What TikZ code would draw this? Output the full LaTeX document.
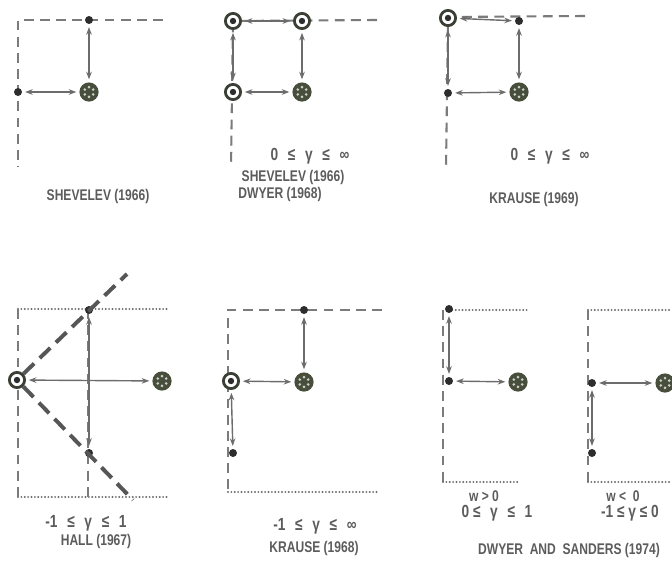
\documentclass[tikz,border=0pt]{standalone}
\usepackage{fontspec}
\setmainfont{Liberation Sans}[FakeStretch=0.78]
\usetikzlibrary{arrows.meta}
\definecolor{linegray}{RGB}{108,108,108}
\definecolor{dotgray}{RGB}{45,45,45}
\definecolor{srcolive}{RGB}{72,78,60}
\definecolor{ringdark}{RGB}{58,64,54}
\definecolor{textgray}{RGB}{92,92,92}
\newcommand{\rgap}{\hspace{0.55em}}
\tikzset{
  >=Stealth,
  linkarrow/.style={{Stealth[length=1.9mm, width=1.4mm]}-{Stealth[length=1.9mm, width=1.4mm]}, line width=1pt, linegray, shorten <=2pt, shorten >=2pt},
  framedash/.style={dash pattern=on 7pt off 4.5pt, line width=1.5pt, linegray!90},
  framedot/.style={dash pattern=on 0pt off 2.4pt, line cap=round, line width=1.5pt, linegray},
  bounddash/.style={dash pattern=on 10.5pt off 5.5pt, line width=2.8pt, linegray!80!black}
}

\begin{document}
\begin{tikzpicture}[x=0.025cm, y=-0.025cm,
    dotnode/.style={circle, fill=dotgray, inner sep=0pt, minimum size=0.2cm},
    tnode/.style={circle, draw=ringdark, line width=2pt, fill=white, inner sep=0pt, minimum size=0.38cm,
      path picture={\fill[dotgray] (path picture bounding box.center) circle (0.08cm);}},
    snode/.style={circle, fill=srcolive, inner sep=0pt, minimum size=0.48cm,
      path picture={\foreach \a in {30,90,...,330}
        \fill[white!72!srcolive] ([shift={(\a:0.12cm)}]path picture bounding box.center) circle (0.037cm);}},
    lbl/.style={text=textgray, inner sep=0pt, font=\bfseries\fontsize{11}{12}\selectfont},
    rangelbl/.style={lbl, font=\bfseries\fontsize{12.5}{13}\selectfont}]

    \useasboundingbox (0,0) rectangle (672,561);

    % Shevelev (1966)
    \draw[framedash] (163,20) -- (18,20) -- (18,167);
    \node[dotnode] (a1) at (89,20) {};
    \node[dotnode] (a2) at (18,92) {};
    \node[snode] (s1) at (89,92) {};
    \draw[linkarrow] (a1) -- (s1);
    \draw[linkarrow] (a2) -- (s1);
    \node[lbl] (n1) at (98,196) {SHEVELEV (1966)};

    % Shevelev (1966) / Dwyer (1968)
    \draw[framedash] (377,20) -- (233,21) -- (231,167);
    \node[tnode] (t2a) at (233,21) {};
    \node[tnode] (t2b) at (302,21) {};
    \node[tnode] (t2c) at (233,92) {};
    \node[snode] (s2) at (302,92) {};
    \draw[linkarrow] (t2a) -- (t2b);
    \draw[linkarrow] (t2a) -- (t2c);
    \draw[linkarrow] (t2b) -- (s2);
    \draw[linkarrow] (t2c) -- (s2);
    \node[rangelbl] (r2) at (310,156) {0\rgap≤\rgap γ\rgap≤\rgap∞};
    \node[lbl] (n2a) at (293,177) {SHEVELEV (1966)};
    \node[lbl] (n2b) at (280,194) {DWYER (1968)};

    % Krause (1969)
    \draw[framedash] (585,16) -- (448,17) -- (446,170);
    \node[tnode] (t3) at (448,18) {};
    \node[dotnode] (a3a) at (519,21) {};
    \node[dotnode] (a3b) at (448,93) {};
    \node[snode] (s3) at (519,92) {};
    \draw[linkarrow] (t3) -- (a3a);
    \draw[linkarrow] (t3) -- (a3b);
    \draw[linkarrow] (a3a) -- (s3);
    \draw[linkarrow] (a3b) -- (s3);
    \node[rangelbl] (r3) at (550,156) {0\rgap≤\rgap γ\rgap≤\rgap∞};
    \node[lbl] (n3) at (534,199) {KRAUSE (1969)};

    % Hall (1967)
    \draw[framedot] (18,309) -- (167,309);
    \draw[framedot] (18,497) -- (167,497);
    \draw[framedash] (18,309) -- (18,497);
    \draw[framedash] (88,309) -- (88,497);
    \node[dotnode] (a4a) at (89,310) {};
    \node[dotnode] (a4b) at (89,453) {};
    \node[tnode] (t4) at (17,380) {};
    \node[snode] (s4) at (162,381) {};
    \coordinate (c4a) at (127,274);
    \coordinate (c4b) at (133,500);
    \draw[bounddash] (t4) -- (c4a);
    \draw[bounddash] (t4) -- (c4b);
    \draw[linkarrow, line width=1.5pt] (a4a) -- (a4b);
    \draw[linkarrow] (t4) -- (s4);
    \node[rangelbl] (r4) at (86,523) {-1\rgap≤\rgap γ\rgap≤\rgap 1};
    \node[lbl] (n4) at (96,541) {HALL (1967)};

    % Krause (1968)
    \draw[framedash] (382,310) -- (228,310) -- (228,492);
    \draw[framedot] (228,492) -- (377,492);
    \node[dotnode] (a5a) at (304,310) {};
    \node[tnode] (t5) at (231,381) {};
    \node[snode] (s5) at (304,382) {};
    \node[dotnode] (a5b) at (233,453) {};
    \draw[linkarrow] (a5a) -- (s5);
    \draw[linkarrow] (t5) -- (s5);
    \draw[linkarrow] (t5) -- (a5b);
    \node[rangelbl] (r5) at (315,526) {-1\rgap≤\rgap γ\rgap≤\rgap∞};
    \node[lbl] (n5) at (314,548) {KRAUSE (1968)};

    % Dwyer and Sanders (1974), w > 0
    \draw[framedot] (449,310) -- (528,310);
    \draw[framedash] (443,310) -- (443,482);
    \draw[framedot] (443,482) -- (520,482);
    \node[dotnode] (a6a) at (449,309) {};
    \node[dotnode] (a6b) at (449,381) {};
    \node[snode] (s6) at (518,382) {};
    \draw[linkarrow] (a6a) -- (a6b);
    \draw[linkarrow] (a6b) -- (s6);
    \node[lbl] (w6) at (484,496) {w > 0};
    \node[rangelbl] (r6) at (497,513) {0~≤\rgap γ\rgap≤\rgap 1};

    % Dwyer and Sanders (1974), w < 0
    \draw[framedot] (588,310) -- (672,310);
    \draw[framedash] (588,310) -- (588,482);
    \draw[framedot] (588,482) -- (672,482);
    \node[dotnode] (a7a) at (592,383) {};
    \node[dotnode] (a7b) at (592,453) {};
    \node[snode] (s7) at (665,383) {};
    \draw[linkarrow, line width=1.5pt] (a7a) -- (a7b);
    \draw[linkarrow] (a7a) -- (s7);
    \node[lbl] (w7) at (623,496) {w~<~~0};
    \node[rangelbl] (r7) at (630,513) {-1~≤~γ~≤~0};
    \node[lbl] (n6) at (569,550) {DWYER\ \ AND\ \ SANDERS\ (1974)};

\end{tikzpicture}
\end{document}
